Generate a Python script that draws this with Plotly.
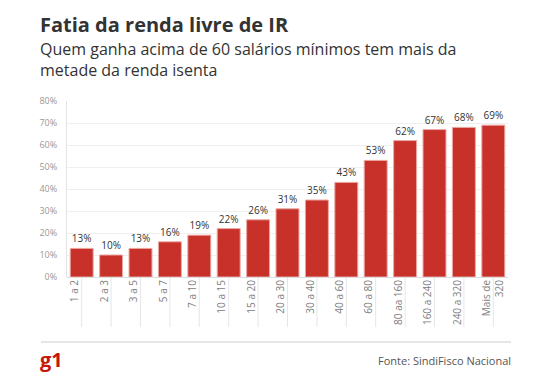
import plotly.graph_objects as go

categories = ["1 a 2", "2 a 3", "3 a 5", "5 a 7", "7 a 10", "10 a 15", "15 a 20",
              "20 a 30", "30 a 40", "40 a 60", "60 a 80", "80 aa 160", "160 a 240",
              "240 a 320", "Mais de<br>320"]
values = [13, 10, 13, 16, 19, 22, 26, 31, 35, 43, 53, 62, 67, 68, 69]
y_ticks = [0, 10, 20, 30, 40, 50, 60, 70, 80]
y_tick_labels = [f"{v}%" for v in y_ticks]

FONT = "Open Sans"
RED = "#c8302a"

W, H = 552, 387
L, R, T, B = 67, 44, 101, 110
PW, PH = W - L - R, H - T - B


def px(xp):
    return (xp - L) / PW


def py(yp):
    return (H - B - yp) / PH


# single-line labels sit in the first line of a two-line block, as in the source
x_tick_text = [c if "<br>" in c else c + "<br>&nbsp;" for c in categories]

fig = go.Figure()
fig.add_trace(go.Bar(
    x=categories, y=values,
    marker=dict(color=RED, line=dict(color="#eba7a3", width=1)),
    width=0.78,
    text=[f"{v}%" for v in values],
    textposition="outside",
    textfont=dict(family=FONT, size=10, color="#333333"),
    cliponaxis=False,
    hoverinfo="skip",
))

shapes = []
for c in categories:
    shapes.append(dict(type="line", xref="x", yref="paper", x0=c, x1=c,
                       y0=0, y1=py(327), line=dict(color="#e6e6e6", width=1),
                       layer="below"))
shapes.append(dict(type="line", xref="paper", yref="paper", x0=px(41), x1=px(511),
                   y0=py(342), y1=py(342), line=dict(color="#cccccc", width=1)))

annotations = [
    dict(text="<b>Fatia da renda livre de IR</b>", xref="paper", yref="paper",
         xanchor="left", yanchor="middle", x=px(38), y=py(25),
         showarrow=False, font=dict(family=FONT, size=20, color="#333333")),
    dict(text="Quem ganha acima de 60 salários mínimos tem mais da<br>metade da renda isenta",
         xref="paper", yref="paper", xanchor="left", yanchor="middle", align="left",
         x=px(38), y=py(59), showarrow=False,
         font=dict(family=FONT, size=16, color="#333333")),
    dict(text="<b>g1</b>", xref="paper", yref="paper", xanchor="left", yanchor="middle",
         x=px(38), y=py(359), showarrow=False,
         font=dict(family=FONT, size=20, color="#c4170c")),
    dict(text="Fonte: SindiFisco Nacional", xref="paper", yref="paper", xanchor="right",
         yanchor="middle", x=px(513), y=py(360), showarrow=False,
         font=dict(family=FONT, size=11, color="#555555")),
]

fig.update_layout(
    width=W, height=H,
    margin=dict(l=L, r=R, t=T, b=B, autoexpand=False),
    paper_bgcolor="white", plot_bgcolor="white",
    showlegend=False,
    font=dict(family=FONT),
    shapes=shapes,
    annotations=annotations,
)
fig.update_yaxes(
    range=[0, 80], tickvals=y_ticks, ticktext=y_tick_labels,
    tickfont=dict(family=FONT, size=9, color="#999999"),
    gridcolor="#f0f0f0", gridwidth=1,
    showline=True, linecolor="#e4e4e4", linewidth=1,
    zeroline=True, zerolinecolor="#dddddd", zerolinewidth=1,
    ticks="", ticklabelstandoff=7, fixedrange=True, automargin=False,
)
fig.update_xaxes(
    tickmode="array", tickvals=categories, ticktext=x_tick_text,
    tickangle=-90, tickfont=dict(family=FONT, size=10, color="#808080"),
    ticks="", showgrid=False, showline=False, fixedrange=True, automargin=False,
)

fig.write_html("out.html", config={"displayModeBar": False},
               post_script="document.body.style.margin='0';document.body.style.overflow='hidden';")
